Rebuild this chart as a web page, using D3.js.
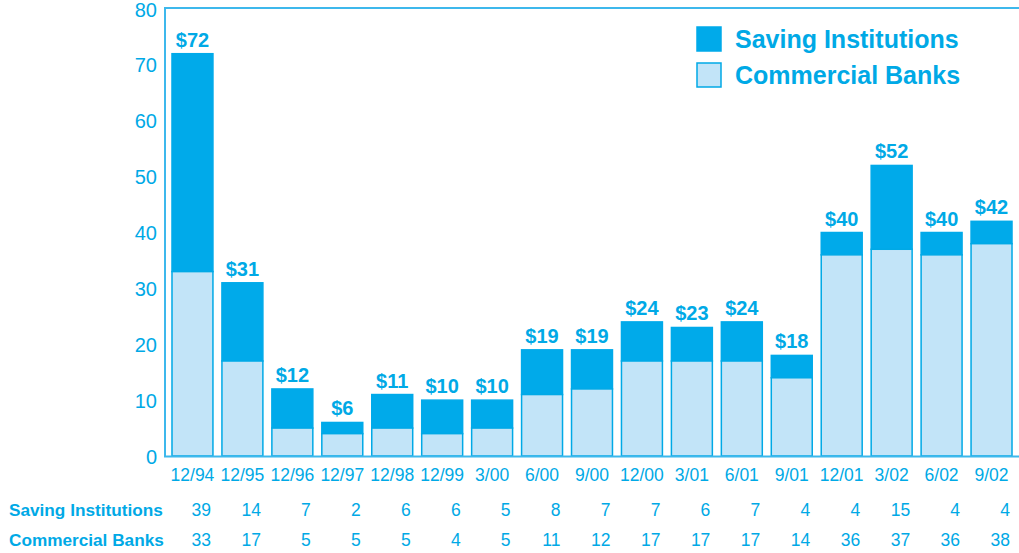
<!DOCTYPE html>
<html><head><meta charset="utf-8">
<script src="https://cdn.jsdelivr.net/npm/d3@7"></script>
<style>body{margin:0;background:#fff}svg{display:block}</style>
</head><body>
<svg id="c" width="1019" height="553"></svg>
<script>
const categories = ["12/94","12/95","12/96","12/97","12/98","12/99","3/00","6/00","9/00","12/00","3/01","6/01","9/01","12/01","3/02","6/02","9/02"];
// bar heights as drawn
const commercialBars = [33,17,5,4,5,4,5,11,12,17,17,17,14,36,37,36,38];
const totalBars = [72,31,12,6,11,10,10,19,19,24,23,24,18,40,52,40,42];
const totalLabels = ["$72","$31","$12","$6","$11","$10","$10","$19","$19","$24","$23","$24","$18","$40","$52","$40","$42"];
// table values
const savingsTable = [39,14,7,2,6,6,5,8,7,7,6,7,4,4,15,4,4];
const commercialTable = [33,17,5,5,5,4,5,11,12,17,17,17,14,36,37,36,38];
const yTicks = [0,10,20,30,40,50,60,70,80];
const seriesNames = ["Saving Institutions","Commercial Banks"];

const C = "#00a9e6", DARK = "#00aaea", LIGHT = "#c2e4f8", LINE = "#3db8ec";
const svg = d3.select("#c");
const font = "Liberation Sans, Arial, Helvetica, sans-serif";

const x = d3.scaleBand().domain(categories).range([165, 1019]).paddingInner(0.18).paddingOuter(0.14);
const y = d3.scaleLinear().domain([0, 80]).range([456, 9]);

// frame
svg.append("line").attr("x1",165).attr("x2",1019).attr("y1",y(80)-1).attr("y2",y(80)-1).attr("stroke",LINE).attr("stroke-width",2);
svg.append("line").attr("x1",165).attr("x2",165).attr("y1",y(80)-2).attr("y2",y(0)+1).attr("stroke",LINE).attr("stroke-width",2);

// bars
const g = svg.append("g");
categories.forEach((c,i)=>{
  const bx = x(c), bw = x.bandwidth();
  g.append("rect").attr("x",bx).attr("width",bw)
    .attr("y",y(totalBars[i])).attr("height",y(commercialBars[i])-y(totalBars[i]))
    .attr("fill",DARK).attr("stroke",DARK).attr("stroke-width",1.5);
  g.append("rect").attr("x",bx).attr("width",bw)
    .attr("y",y(commercialBars[i])).attr("height",y(0)-y(commercialBars[i]))
    .attr("fill",LIGHT).attr("stroke",C).attr("stroke-width",1.5);
  g.append("text").attr("x",bx+bw/2).attr("y",y(totalBars[i])-7)
    .attr("text-anchor","middle").attr("font-family",font).attr("font-weight","bold")
    .attr("font-size",20).attr("fill",C).text(totalLabels[i]);
});

// bottom line
svg.append("line").attr("x1",164).attr("x2",1019).attr("y1",y(0)+0.5).attr("y2",y(0)+0.5).attr("stroke",LINE).attr("stroke-width",2);

// y tick labels
svg.append("g").selectAll("text").data(yTicks).join("text")
  .attr("x",157).attr("y",d=>y(d)+7.5).attr("text-anchor","end")
  .attr("font-family",font).attr("font-size",20).attr("fill",C).text(d=>d);

// x tick labels
svg.append("g").selectAll("text").data(categories).join("text")
  .attr("x",d=>x(d)+x.bandwidth()/2).attr("y",481).attr("text-anchor","middle")
  .attr("font-family",font).attr("font-size",17.5).attr("fill",C).text(d=>d);

// table
const rows = [savingsTable, commercialTable];
const rowY = [516, 546];
rows.forEach((vals,r)=>{
  svg.append("text").attr("x",9).attr("y",rowY[r]).attr("font-family",font)
    .attr("font-weight","bold").attr("font-size",17.2).attr("fill",C).text(seriesNames[r]);
  svg.append("g").selectAll("text").data(vals).join("text")
    .attr("x",(d,i)=>x(categories[i])+x.bandwidth()-2).attr("y",rowY[r])
    .attr("text-anchor","end").attr("font-family",font).attr("font-size",17.5).attr("fill",C).text(d=>d);
});

// legend
const legFill = [DARK, LIGHT];
const legY = [27, 63];
seriesNames.forEach((n,i)=>{
  svg.append("rect").attr("x",697).attr("y",legY[i]).attr("width",24).attr("height",24)
    .attr("fill",legFill[i]).attr("stroke",i?C:DARK).attr("stroke-width",1.5);
  svg.append("text").attr("x",735).attr("y",legY[i]+21).attr("font-family",font)
    .attr("font-weight","bold").attr("font-size",25).attr("fill",C).text(n);
});
</script>
</body></html>
